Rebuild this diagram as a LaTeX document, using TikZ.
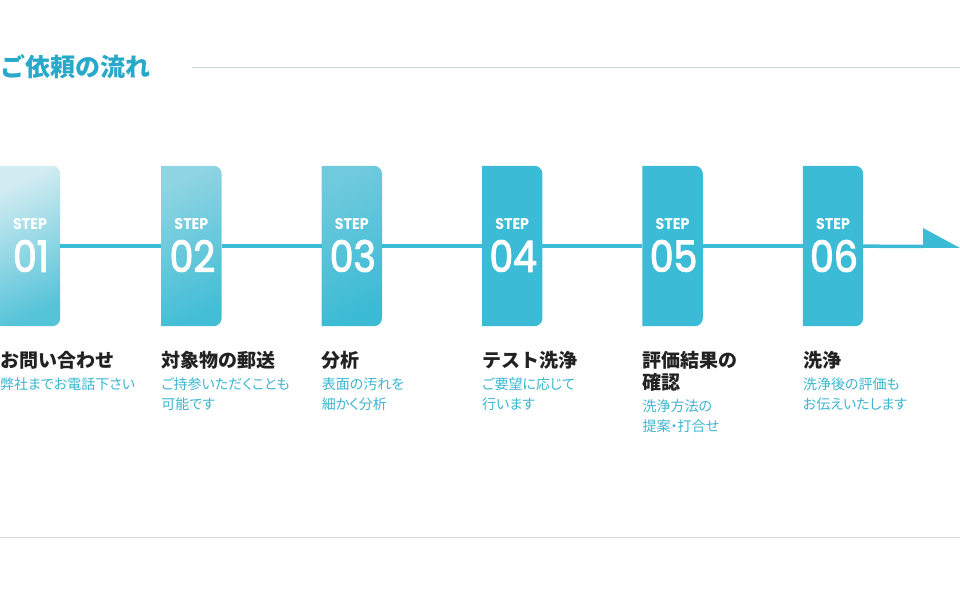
\documentclass[tikz,border=0pt]{standalone}
\usepackage{fontspec}
\setmainfont{Noto Sans CJK JP}
\newfontfamily\descfont[RawFeature=+palt]{Noto Sans CJK JP}
\newfontfamily\stepfont[FakeStretch=0.92]{Poppins}
\newfontfamily\numfont[FakeStretch=0.88, FakeBold=2.5]{Poppins}
\usetikzlibrary{positioning, backgrounds}
\definecolor{accent}{HTML}{3BBBD5}
\definecolor{headblue}{HTML}{29A9C9}
\definecolor{desctext}{HTML}{3BB5D0}
\definecolor{titletext}{HTML}{222222}
\definecolor{rulegray}{HTML}{CBD2D6}
\definecolor{rulelight}{HTML}{D9DDDF}
\definecolor{onetop}{HTML}{D3ECF2}
\definecolor{onebot}{HTML}{55C3D8}
\definecolor{twotop}{HTML}{8FD4E2}
\definecolor{twobot}{HTML}{44BED6}
\definecolor{threetop}{HTML}{6FCADD}
\definecolor{threebot}{HTML}{3CBBD4}

\begin{document}
\begin{tikzpicture}[
      x=1pt, y=1pt,
      node distance=100pt,
      stepbox/.style={rectangle, minimum width=60pt, minimum height=160pt, inner sep=0pt},
      boxshape/.style={insert path={(#1.south west) -- (#1.north west)
          -- ([xshift=-8pt]#1.north east) arc[start angle=90, end angle=0, radius=8pt]
          -- ([yshift=8pt]#1.south east) arc[start angle=0, end angle=-90, radius=8pt]
          -- cycle}},
      steptag/.style={font=\stepfont\bfseries\fontsize{15.5}{15.5}\selectfont, text=white, inner sep=0pt},
      stepnum/.style={font=\numfont\fontsize{43}{43}\selectfont, text=white, inner sep=0pt},
      steptitle/.style={font=\bfseries\fontsize{19}{22}\selectfont, text=titletext,
                        inner sep=0pt, align=left, anchor=base west},
      stepdesc/.style={font=\descfont\fontsize{14}{20}\selectfont, text=desctext,
                       inner sep=0pt, align=left, anchor=base west},
      headtitle/.style={font=\bfseries\fontsize{25}{25}\selectfont, text=headblue,
                        inner sep=0pt, anchor=base west},
      flowline/.style={accent, line width=3.5pt},
    ]
    \useasboundingbox (0,0) rectangle (960,615);

    % heading
    \node[headtitle] (head) at (0,538) {ご依頼の流れ};
    \coordinate (hr0) at (192,547);
    \coordinate (hr1) at (960,547);
    \draw[rulegray, line width=1pt] (hr0) -- (hr1);

    % step boxes
    \node[stepbox] (s1) at (30,369) {};
    \node[stepbox, right=101pt of s1] (s2) {};
    \node[stepbox, right=of s2] (s3) {};
    \node[stepbox, right=of s3] (s4) {};
    \node[stepbox, right=of s4] (s5) {};
    \node[stepbox, right=of s5] (s6) {};

    \shade[top color=onetop, bottom color=onebot, shading angle=25, boxshape=s1];
    \shade[top color=twotop, bottom color=twobot, shading angle=25, boxshape=s2];
    \shade[top color=threetop, bottom color=threebot, shading angle=25, boxshape=s3];
    \fill[accent, boxshape=s4];
    \fill[accent, boxshape=s5];
    \fill[accent, boxshape=s6];

    \node[steptag] (g1) at ([yshift=22pt]s1.center) {STEP};
    \node[steptag] (g2) at ([yshift=22pt]s2.center) {STEP};
    \node[steptag] (g3) at ([yshift=22pt]s3.center) {STEP};
    \node[steptag] (g4) at ([yshift=22pt]s4.center) {STEP};
    \node[steptag] (g5) at ([yshift=22pt]s5.center) {STEP};
    \node[steptag] (g6) at ([yshift=22pt]s6.center) {STEP};
    \node[stepnum] (n1) at ([xshift=1pt, yshift=-10pt]s1.center) {01};
    \node[stepnum] (n2) at ([xshift=1pt, yshift=-10pt]s2.center) {02};
    \node[stepnum] (n3) at ([xshift=1pt, yshift=-10pt]s3.center) {03};
    \node[stepnum] (n4) at ([xshift=1pt, yshift=-10pt]s4.center) {04};
    \node[stepnum] (n5) at ([xshift=1pt, yshift=-10pt]s5.center) {05};
    \node[stepnum] (n6) at ([xshift=1pt, yshift=-10pt]s6.center) {06};

    % flow line
    \coordinate (ab) at (923,368.5);
    \coordinate (ahtop) at (923,387);
    \coordinate (ahbot) at (923,367);
    \coordinate (tip) at (960,367);
    \draw[flowline] (s1) -- (s2);
    \draw[flowline] (s2) -- (s3);
    \draw[flowline] (s3) -- (s4);
    \draw[flowline] (s4) -- (s5);
    \draw[flowline] (s5) -- (s6);
    \draw[flowline] (s6) -- (ab);
    \fill[accent] (ahtop) -- (tip) -- (ahbot) -- cycle;

    % titles and notes (base = last line)
    \node[steptitle] (h1) at ([yshift=-41pt]s1.south west) {お問い合わせ};
    \node[steptitle] (h2) at ([yshift=-41pt]s2.south west) {対象物の郵送};
    \node[steptitle] (h3) at ([yshift=-41pt]s3.south west) {分析};
    \node[steptitle] (h4) at ([yshift=-41pt]s4.south west) {テスト洗浄};
    \node[steptitle] (h5) at ([yshift=-63pt]s5.south west) {評価結果の\\確認};
    \node[steptitle] (h6) at ([yshift=-41pt]s6.south west) {洗浄};

    \node[stepdesc] (d1) at ([yshift=-22pt]h1.base west) {弊社までお電話下さい};
    \node[stepdesc] (d2) at ([yshift=-42pt]h2.base west) {ご持参いただくことも\\可能です};
    \node[stepdesc] (d3) at ([yshift=-42pt]h3.base west) {表面の汚れを\\細かく分析};
    \node[stepdesc] (d4) at ([yshift=-42pt]h4.base west) {ご要望に応じて\\行います};
    \node[stepdesc] (d5) at ([yshift=-42pt]h5.base west) {洗浄方法の\\提案・打合せ};
    \node[stepdesc] (d6) at ([yshift=-42pt]h6.base west) {洗浄後の評価も\\お伝えいたします};

    % bottom rule
    \coordinate (br0) at (0,77);
    \coordinate (br1) at (960,77);
    \draw[rulelight, line width=1pt] (br0) -- (br1);
  \end{tikzpicture}
\end{document}
